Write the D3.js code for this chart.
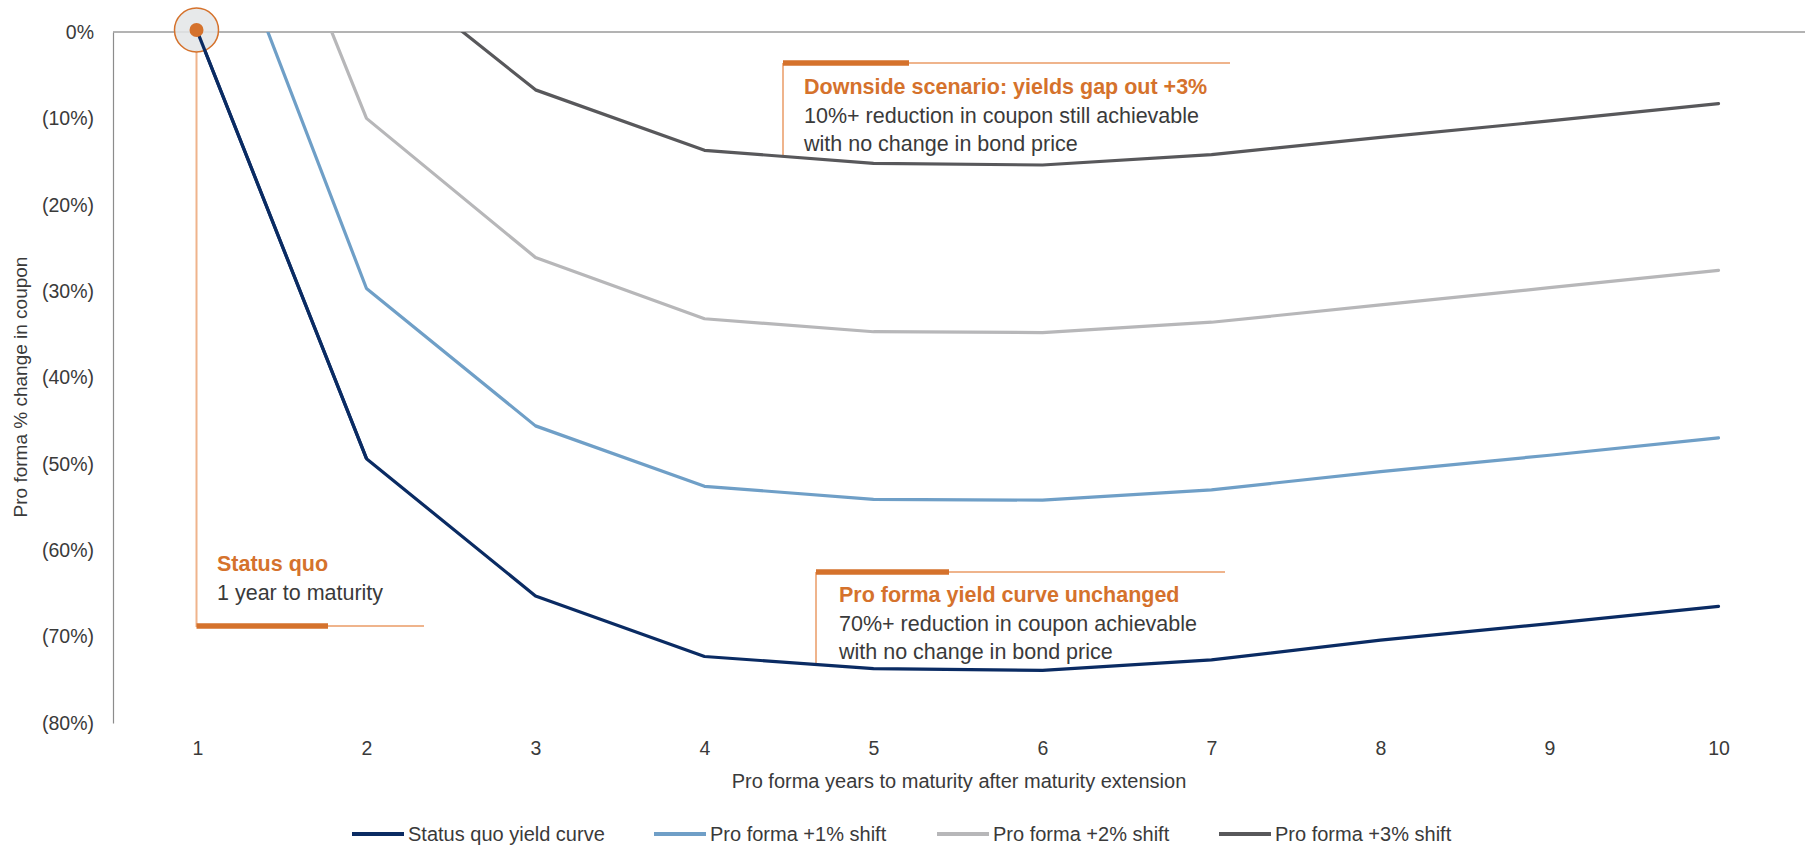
<!DOCTYPE html>
<html>
<head>
<meta charset="utf-8">
<script src="https://cdn.jsdelivr.net/npm/d3@7"></script>
<style>
  html, body { margin: 0; padding: 0; background: #fff; }
  svg { display: block; font-family: "Liberation Sans", Arial, sans-serif; }
</style>
</head>
<body>
<svg id="chart" width="1812" height="846"></svg>
<script>
// Years to maturity after extension
const years = [1, 2, 3, 4, 5, 6, 7, 8, 9, 10];

// Pro forma % change in coupon for each curve (values above 0% fall outside the plot)
const statusQuo = [0, -49.4, -65.3, -72.3, -73.7, -73.9, -72.7, -70.4, -68.5, -66.5];
const shift1 = [21.2, -29.7, -45.6, -52.6, -54.1, -54.2, -53.0, -50.9, -49.0, -47.0];
const shift2 = [38.6, -10.0, -26.1, -33.2, -34.7, -34.8, -33.6, -31.6, -29.6, -27.6];
const shift3 = [null, 8.9, -6.7, -13.7, -15.2, -15.4, -14.2, -12.2, -10.3, -8.3];

const seriesNames = ["Status quo yield curve", "Pro forma +1% shift", "Pro forma +2% shift", "Pro forma +3% shift"];
const seriesColors = ["#0a2b63", "#6f9fc7", "#b7b7b9", "#58585b"];

const yTicks = [0, -10, -20, -30, -40, -50, -60, -70, -80];

const series = [statusQuo, shift1, shift2, shift3].map((vals, i) => ({
  name: seriesNames[i],
  color: seriesColors[i],
  points: years.map((yr, j) => ({ x: yr, y: vals[j] }))
}));

const svg = d3.select("#chart");
const orange = "#d5722c";
const paleOrange = "#efb48c";
const textColor = "#3a3a3a";

const x = d3.scalePoint().domain(years).range([113, 1803]).padding(0.5);
const y = d3.scaleLinear().domain([-80, 0]).range([723, 32]);

// clip the curves to the plotted range
svg.append("defs").append("clipPath").attr("id", "plot-clip")
  .append("rect").attr("x", 113).attr("y", y(0)).attr("width", 1690).attr("height", y(-80) - y(0));

// y axis
const yAxis = svg.append("g").attr("transform", "translate(113,0)")
  .call(d3.axisLeft(y).tickValues(yTicks).tickSize(0).tickPadding(19)
    .tickFormat(d => d === 0 ? "0%" : "(" + Math.abs(d) + "%)"));
yAxis.select(".domain").attr("stroke", "#8c8c8c").attr("stroke-width", 1.2);
yAxis.selectAll("text").attr("font-size", 19.5).attr("fill", textColor).attr("font-family", "Liberation Sans, Arial, sans-serif");

// 0% baseline
svg.append("line").attr("x1", 113).attr("x2", 1805).attr("y1", y(0)).attr("y2", y(0))
  .attr("stroke", "#9a9a9a").attr("stroke-width", 1.5);

// x axis labels
const xAxis = svg.append("g").attr("transform", "translate(0," + y(-80) + ")")
  .call(d3.axisBottom(x).tickSize(0).tickPadding(0));
xAxis.select(".domain").remove();
xAxis.selectAll("text").attr("font-size", 19.5).attr("fill", textColor)
  .attr("dy", null).attr("y", 32).attr("font-family", "Liberation Sans, Arial, sans-serif");

// axis titles
svg.append("text").attr("x", 959).attr("y", 788).attr("text-anchor", "middle")
  .attr("font-size", 20).attr("fill", textColor)
  .text("Pro forma years to maturity after maturity extension");
svg.append("text").attr("transform", "translate(27,387) rotate(-90)").attr("text-anchor", "middle")
  .attr("font-size", 19).attr("fill", textColor)
  .text("Pro forma % change in coupon");

// annotation callouts
function callout(cfg) {
  const g = svg.append("g");
  g.append("line").attr("x1", cfg.x).attr("x2", cfg.x).attr("y1", cfg.vTop).attr("y2", cfg.vBottom)
    .attr("stroke", paleOrange).attr("stroke-width", 2);
  g.append("line").attr("x1", cfg.x).attr("x2", cfg.thinEnd).attr("y1", cfg.barY).attr("y2", cfg.barY)
    .attr("stroke", paleOrange).attr("stroke-width", 2);
  g.append("line").attr("x1", cfg.x).attr("x2", cfg.thickEnd).attr("y1", cfg.barY).attr("y2", cfg.barY)
    .attr("stroke", orange).attr("stroke-width", 5.5);
  cfg.lines.forEach((t, i) => {
    g.append("text").attr("x", cfg.textX).attr("y", cfg.textY + i * 28.5)
      .attr("font-size", 21.5).attr("font-weight", i === 0 ? "bold" : "normal")
      .attr("fill", i === 0 ? orange : textColor).text(t);
  });
}

callout({ x: x(1) - 1, vTop: 50, vBottom: 627, barY: 626, thickEnd: 328, thinEnd: 424,
  textX: 217, textY: 571, lines: ["Status quo", "1 year to maturity"] });
callout({ x: 783, vTop: 63, vBottom: 155, barY: 63, thickEnd: 909, thinEnd: 1230,
  textX: 804, textY: 94, lines: ["Downside scenario: yields gap out +3%", "10%+ reduction in coupon still achievable", "with no change in bond price"] });
callout({ x: 816, vTop: 572, vBottom: 664, barY: 572, thickEnd: 949, thinEnd: 1225,
  textX: 839, textY: 602, lines: ["Pro forma yield curve unchanged", "70%+ reduction in coupon achievable", "with no change in bond price"] });

// curves
const line = d3.line().defined(d => d.y !== null).x(d => x(d.x)).y(d => y(d.y));
svg.append("g").attr("clip-path", "url(#plot-clip)")
  .selectAll("path").data(series.slice().reverse()).join("path")
  .attr("d", d => line(d.points)).attr("fill", "none")
  .attr("stroke", d => d.color).attr("stroke-width", 3.2)
  .attr("stroke-linejoin", "round").attr("stroke-linecap", "round");

// status quo marker
svg.append("circle").attr("cx", x(1) - 1).attr("cy", y(0) - 2).attr("r", 22)
  .attr("fill", "#e3e5e6").attr("fill-opacity", 0.85).attr("stroke", orange).attr("stroke-width", 1.5);
svg.append("path").attr("d", line(series[0].points.slice(0, 2))).attr("clip-path", "url(#plot-clip)")
  .attr("stroke", series[0].color).attr("stroke-width", 3.2).attr("fill", "none");
svg.append("circle").attr("cx", x(1) - 1).attr("cy", y(0) - 2).attr("r", 7).attr("fill", orange);

// legend
const legendX = [352, 654, 937, 1219];
const legend = svg.append("g").selectAll("g").data(series).join("g")
  .attr("transform", (d, i) => "translate(" + legendX[i] + ",834)");
legend.append("line").attr("x1", 0).attr("x2", 52).attr("stroke", d => d.color).attr("stroke-width", 4);
legend.append("text").attr("x", 56).attr("y", 7).attr("font-size", 20).attr("fill", textColor)
  .text(d => d.name);
</script>
</body>
</html>
